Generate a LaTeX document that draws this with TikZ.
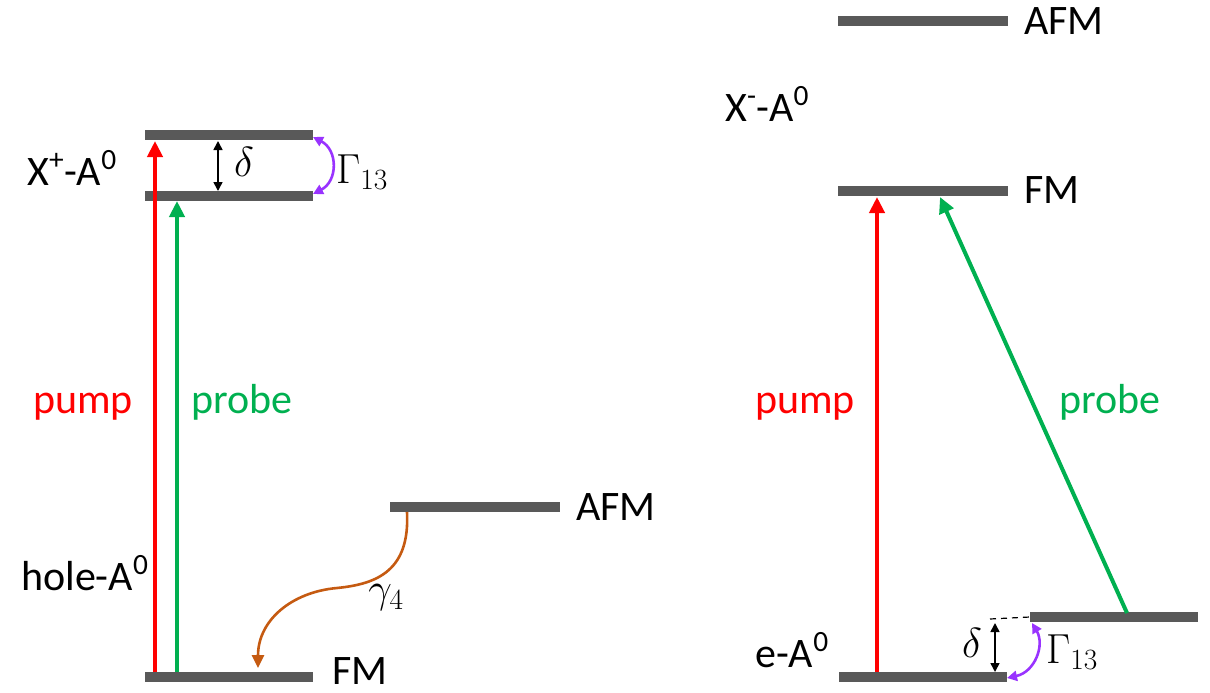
\RequirePackage{fix-cm}
\documentclass[tikz,border=0pt]{standalone}
\usepackage{fontspec}
\setmainfont{Carlito}
\usetikzlibrary{arrows.meta}
\definecolor{barc}{RGB}{89,89,89}
\definecolor{pumpc}{RGB}{255,0,0}
\definecolor{probec}{RGB}{0,176,80}
\definecolor{purp}{RGB}{153,51,255}
\definecolor{oran}{RGB}{197,90,17}
\tikzset{
  level/.style={line width=9.5pt, barc},
  lbl/.style={inner sep=0pt, anchor=base west, font=\fontsize{42}{50}\selectfont},
  mlbl/.style={inner sep=0pt, font=\fontsize{42}{50}\selectfont},
  pumparr/.style={pumpc, line width=4pt, -{Triangle[length=16pt,width=15pt]}},
  probearr/.style={probec, line width=4pt, -{Triangle[length=16pt,width=15pt]}},
  deltaarr/.style={black, line width=1.6pt, {Triangle[length=9pt,width=9pt]}-{Triangle[length=9pt,width=9pt]}},
  gamarr/.style={purp, line width=2.6pt, {Triangle[length=10pt,width=10pt]}-{Triangle[length=10pt,width=10pt]}},
  decarr/.style={oran, line width=2.6pt, -{Triangle[length=13pt,width=12pt]}},
}
\begin{document}
\begin{tikzpicture}[x=1pt,y=-1pt]
\useasboundingbox (0,0) rectangle (1210,693);
% ---------- left diagram ----------
\coordinate (XpUa) at (145,135); \coordinate (XpUb) at (313,135);
\coordinate (XpLa) at (145,196); \coordinate (XpLb) at (313,196);
\coordinate (hAFMa) at (390,507); \coordinate (hAFMb) at (560,507);
\coordinate (hFMa) at (145,677); \coordinate (hFMb) at (313,677);
\draw[level] (XpUa) -- (XpUb);
\draw[level] (XpLa) -- (XpLb);
\draw[level] (hAFMa) -- (hAFMb);
\draw[level] (hFMa) -- (hFMb);

\node[lbl] (lXp) at (27,185) {X\textsuperscript{+}-A\textsuperscript{0}};
\node[lbl] (lhole) at (21,590) {hole-A\textsuperscript{0}};
\node[lbl] (lhAFM) at (576,520) {AFM};
\node[lbl] (lhFM) at (332,684) {FM};
\node[lbl, pumpc] (lpumpL) at (33,413) {pump};
\node[lbl, probec] (lprobeL) at (191,413) {probe};

\coordinate (rL0) at (155,672); \coordinate (rL1) at (155,141);
\coordinate (gL0) at (177,672); \coordinate (gL1) at (177,201);
\draw[pumparr] (rL0) -- (rL1);
\draw[probearr] (gL0) -- (gL1);

\coordinate (dL0) at (218,141); \coordinate (dL1) at (218,191);
\draw[deltaarr] (dL0) -- (dL1);
\node[mlbl] (ldL) at (244,162) {$\delta$};

\coordinate (gmL0) at (313,137); \coordinate (gmL1) at (313,194);
\draw[gamarr] (gmL0) .. controls (338,150) and (338,181) .. (gmL1);
\node[mlbl, anchor=west] (lgmL) at (336,172) {$\Gamma_{13}$};

\coordinate (oc0) at (407,512); \coordinate (ocm) at (337,588); \coordinate (oc1) at (258,668);
\draw[decarr] (oc0) .. controls (410,570) and (378,584) .. (ocm) .. controls (292,592) and (258,620) .. (oc1);
\node[mlbl] (lg4) at (386,598) {$\gamma_4$};

% ---------- right diagram ----------
\coordinate (RAFMa) at (838,21); \coordinate (RAFMb) at (1008,21);
\coordinate (RFMa) at (838,191); \coordinate (RFMb) at (1008,191);
\coordinate (eUa) at (1030,617); \coordinate (eUb) at (1198,617);
\coordinate (eLa) at (839,677); \coordinate (eLb) at (1007,677);
\draw[level] (RAFMa) -- (RAFMb);
\draw[level] (RFMa) -- (RFMb);
\draw[level] (eUa) -- (eUb);
\draw[level] (eLa) -- (eLb);

\node[lbl] (lRAFM) at (1024,35) {AFM};
\node[lbl] (lXm) at (725,121) {X\textsuperscript{-}-A\textsuperscript{0}};
\node[lbl] (lRFM) at (1024,203) {FM};
\node[lbl] (leA) at (755,667) {e-A\textsuperscript{0}};
\node[lbl, pumpc] (lpumpR) at (755,413) {pump};
\node[lbl, probec] (lprobeR) at (1059,413) {probe};

\coordinate (rR0) at (877,672); \coordinate (rR1) at (877,197);
\coordinate (gR0) at (1127,613); \coordinate (gR1) at (940,197);
\draw[pumparr] (rR0) -- (rR1);
\draw[probearr] (gR0) -- (gR1);

\coordinate (dash0) at (990,619);
\draw[black, line width=1.2pt, dash pattern=on 6pt off 5pt] (dash0) -- (eUa);
\coordinate (dR0) at (995,623); \coordinate (dR1) at (995,672);
\draw[deltaarr] (dR0) -- (dR1);
\node[mlbl] (ldR) at (972,643) {$\delta$};

\coordinate (gmR0) at (1007,678); \coordinate (gmR1) at (1032,623);
\draw[gamarr] (gmR0) .. controls (1035,672) and (1045,645) .. (gmR1);
\node[mlbl, anchor=west] (lgmR) at (1046,652) {$\Gamma_{13}$};
\end{tikzpicture}
\end{document}
